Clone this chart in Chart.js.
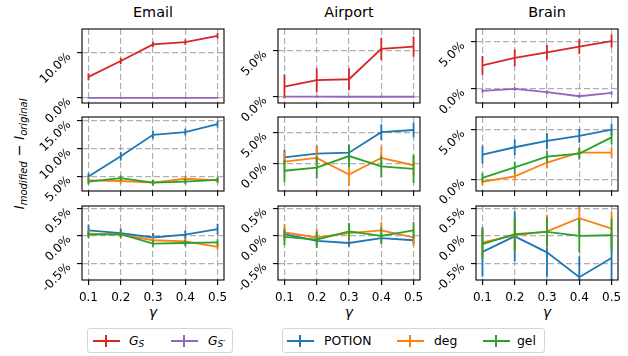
<!DOCTYPE html>
<html>
<head>
<meta charset="utf-8">
<script src="https://cdn.jsdelivr.net/npm/chart.js"></script>
<style>
body{margin:0;width:628px;height:356px;position:relative;background:#fff;overflow:hidden;font-family:"DejaVu Sans",sans-serif;color:#000}
canvas{position:absolute}
.title{position:absolute;top:4px;width:142px;text-align:center;font-size:14.4px;line-height:16px}
.gam{position:absolute;top:304px;width:20px;margin-left:-10px;text-align:center;font-style:italic;font-size:14px;line-height:16px}
#ylab{position:absolute;left:20px;top:154px;transform:translate(-50%,-50%) rotate(-90deg);white-space:nowrap;font-size:14.4px}
#ylab sub{font-size:10px;font-style:italic;vertical-align:-3px}
.lbox{position:absolute;top:328px;height:25px;border:1px solid #d6d6d6;border-radius:3px;box-sizing:border-box}
.mk{position:absolute;top:340px;width:27px;height:2px}
.mk i{position:absolute;left:12px;top:-5px;width:2px;height:12px;background:inherit}
.lt{position:absolute;top:332px;font-size:12.4px;line-height:18px}
.lt sub{font-size:9px;font-style:italic;vertical-align:-2px}
</style>
</head>
<body>
<div class="title" style="left:82px">Email</div>
<div class="title" style="left:278px">Airport</div>
<div class="title" style="left:476px">Brain</div>
<div id="ylab"><i>I</i><sub>modified</sub> − <i>I</i><sub>original</sub></div>
<div class="gam" style="left:153px">γ</div>
<div class="gam" style="left:349px">γ</div>
<div class="gam" style="left:547px">γ</div>

<div class="lbox" style="left:87px;width:146px"></div>
<div class="lbox" style="left:282px;width:263px"></div>
<div class="mk" style="left:93px;background:#d62728"><i></i></div>
<div class="lt" style="left:129px"><i>G</i><sub>S</sub></div>
<div class="mk" style="left:171px;background:#9467bd"><i></i></div>
<div class="lt" style="left:208px"><i>G</i><sub>S′</sub></div>
<div class="mk" style="left:287px;background:#1f77b4"><i></i></div>
<div class="lt" style="left:324px">POTION</div>
<div class="mk" style="left:397px;background:#ff7f0e"><i></i></div>
<div class="lt" style="left:434px">deg</div>
<div class="mk" style="left:483px;background:#2ca02c"><i></i></div>
<div class="lt" style="left:517px">gel</div>

<script>
const gamma = [0.1, 0.2, 0.3, 0.4, 0.5];

// row 1: G_S and G_S'
const emailGs = [4.7, 8.2, 11.9, 12.4, 13.8];
const emailGsErr = [0.8, 0.7, 0.6, 0.6, 0.6];
const emailGsp = [0.05, 0.05, 0.03, 0.03, 0.05];
const emailGspErr = [0.15, 0.15, 0.15, 0.15, 0.15];
const airportGs = [1.1, 1.8, 1.9, 5.2, 5.45];
const airportGsErr = [1.3, 1.3, 1.2, 1.2, 1.1];
const airportGsp = [0.02, 0.02, 0.0, 0.0, 0.0];
const airportGspErr = [0.1, 0.1, 0.1, 0.1, 0.1];
const brainGs = [2.5, 3.3, 3.9, 4.5, 5.1];
const brainGsErr = [1.0, 0.9, 0.8, 0.8, 0.7];
const brainGsp = [-0.2, 0.0, -0.35, -0.78, -0.43];
const brainGspErr = [0.2, 0.2, 0.2, 0.2, 0.2];

// row 2
const emailPotion = [5.0, 8.65, 12.5, 13.0, 14.4];
const emailPotionErr = [0.6, 0.8, 0.7, 0.6, 0.6];
const emailDeg = [4.3, 4.2, 3.9, 4.6, 4.3];
const emailDegErr = [0.5, 0.5, 0.5, 0.5, 0.5];
const emailGel = [4.1, 4.7, 3.9, 4.1, 4.4];
const emailGelErr = [0.5, 0.5, 0.5, 0.5, 0.5];
const airportPotion = [1.0, 1.6, 1.75, 5.1, 5.45];
const airportPotionErr = [1.2, 1.3, 1.3, 1.3, 1.2];
const airportDeg = [0.3, 0.9, -1.8, 0.9, -0.3];
const airportDegErr = [1.5, 1.9, 1.9, 1.9, 1.6];
const airportGel = [-1.2, -0.7, 1.2, -0.5, -0.9];
const airportGelErr = [1.8, 1.8, 1.8, 1.8, 2.3];
const brainPotion = [2.5, 3.25, 3.9, 4.4, 5.05];
const brainPotionErr = [0.9, 0.8, 0.8, 0.7, 0.6];
const brainDeg = [-0.25, 0.3, 1.7, 2.7, 2.7];
const brainDegErr = [0.4, 0.4, 0.6, 0.5, 0.5];
const brainGel = [0.15, 1.2, 2.3, 2.6, 4.25];
const brainGelErr = [0.5, 0.6, 0.6, 0.6, 0.7];

// row 3
const emailPotion3 = [0.1, 0.05, -0.03, 0.02, 0.12];
const emailPotion3Err = [0.1, 0.08, 0.08, 0.08, 0.1];
const emailDeg3 = [0.04, 0.02, -0.08, -0.1, -0.2];
const emailDeg3Err = [0.06, 0.06, 0.06, 0.06, 0.06];
const emailGel3 = [0.02, 0.03, -0.14, -0.13, -0.12];
const emailGel3Err = [0.06, 0.06, 0.06, 0.06, 0.06];
const airportPotion3 = [0.03, -0.09, -0.13, -0.04, -0.08];
const airportPotion3Err = [0.07, 0.07, 0.07, 0.07, 0.07];
const airportDeg3 = [0.06, -0.03, 0.05, 0.1, -0.03];
const airportDeg3Err = [0.15, 0.15, 0.15, 0.15, 0.15];
const airportGel3 = [-0.02, -0.07, 0.08, 0.0, 0.1];
const airportGel3Err = [0.15, 0.15, 0.15, 0.15, 0.15];
const brainPotion3 = [-0.29, -0.01, -0.3, -0.75, -0.4];
const brainPotion3Err = [0.45, 0.45, 0.45, 0.38, 0.45];
const brainDeg3 = [-0.12, 0.01, 0.08, 0.32, 0.13];
const brainDeg3Err = [0.25, 0.3, 0.3, 0.3, 0.3];
const brainGel3 = [-0.15, 0.03, 0.07, 0.0, 0.01];
const brainGel3Err = [0.27, 0.3, 0.27, 0.3, 0.3];

// y ticks per panel
const ticksEmail1 = [0, 10];
const ticksEmail2 = [5, 10, 15];
const ticksRow3 = [-0.5, 0, 0.5];
const ticksFive = [0, 5];

const RED = '#d62728', PURPLE = '#9467bd', BLUE = '#1f77b4', ORANGE = '#ff7f0e', GREEN = '#2ca02c';

const colLeft = [82, 278, 476];
const rowTop = [29, 117, 206];
const PW = 142, PH = 74;
const L0 = 62, T0 = 8, R0 = 14, B0 = 40;

const errorBars = {
  id: 'errorBars',
  afterDatasetDraw(chart, args) {
    const ds = chart.data.datasets[args.index];
    if (!ds.errors) return;
    const ctx = chart.ctx, a = chart.chartArea;
    const xs = chart.scales.x, ys = chart.scales.y;
    ctx.save();
    ctx.beginPath();
    ctx.rect(a.left, a.top, a.right - a.left, a.bottom - a.top);
    ctx.clip();
    ctx.strokeStyle = ds.borderColor;
    ctx.lineWidth = 1.8;
    ds.data.forEach((p, i) => {
      const x = xs.getPixelForValue(p.x);
      ctx.beginPath();
      ctx.moveTo(x, ys.getPixelForValue(p.y - ds.errors[i]));
      ctx.lineTo(x, ys.getPixelForValue(p.y + ds.errors[i]));
      ctx.stroke();
    });
    ctx.restore();
  }
};

const frameAndLabels = {
  id: 'frameAndLabels',
  afterDraw(chart) {
    const ctx = chart.ctx, a = chart.chartArea;
    ctx.save();
    ctx.strokeStyle = '#000';
    ctx.lineWidth = 1.1;
    ctx.strokeRect(a.left, a.top, a.right - a.left, a.bottom - a.top);
    ctx.fillStyle = '#000';
    ctx.font = '12px "DejaVu Sans"';
    ctx.textAlign = 'right';
    ctx.textBaseline = 'middle';
    chart.options.yTickValues.forEach(v => {
      const y = chart.scales.y.getPixelForValue(v);
      ctx.save();
      ctx.translate(a.left - 13, y + 2);
      ctx.rotate(-Math.PI / 4);
      ctx.fillText(v.toFixed(1) + '%', 0, 0);
      ctx.restore();
    });
    ctx.restore();
  }
};

function panel(col, row, series, yMin, yMax, yTicks) {
  const cv = document.createElement('canvas');
  const w = L0 + PW + R0, h = T0 + PH + B0;
  cv.width = w; cv.height = h;
  cv.style.left = (colLeft[col] - L0) + 'px';
  cv.style.top = (rowTop[row] - T0) + 'px';
  cv.style.width = w + 'px'; cv.style.height = h + 'px';
  document.body.appendChild(cv);
  const gridOpts = {color: 'rgba(150,150,150,0.75)', lineWidth: 1.2, tickColor: '#000', tickLength: 5, tickWidth: 1.1};
  new Chart(cv, {
    type: 'line',
    data: {
      datasets: series.map((s, i) => ({
        data: gamma.map((g, j) => ({x: g, y: s[0][j]})),
        errors: s[1],
        borderColor: s[2],
        borderWidth: 1.8,
        pointRadius: 0,
        tension: 0,
        fill: false,
        order: series.length - i
      }))
    },
    options: {
      responsive: false,
      animation: false,
      events: [],
      yTickValues: yTicks,
      layout: {padding: {top: T0, right: R0, left: 0, bottom: 0}},
      plugins: {legend: {display: false}, tooltip: {enabled: false}},
      scales: {
        x: {
          type: 'linear', min: 0.08, max: 0.52,
          afterBuildTicks: s => { s.ticks = gamma.map(v => ({value: v})); },
          afterFit: s => { s.height = B0; },
          ticks: {display: row === 2, color: '#000', padding: 6, maxRotation: 0,
            font: {family: 'DejaVu Sans', size: 12}, callback: v => v.toFixed(1)},
          grid: gridOpts,
          border: {display: false, dash: [6, 3]}
        },
        y: {
          min: yMin, max: yMax,
          afterBuildTicks: s => { s.ticks = yTicks.map(v => ({value: v})); },
          afterFit: s => { s.width = L0; },
          ticks: {display: false},
          grid: gridOpts,
          border: {display: false, dash: [6, 3]}
        }
      }
    },
    plugins: [errorBars, frameAndLabels]
  });
}

panel(0, 0, [[emailGs, emailGsErr, RED], [emailGsp, emailGspErr, PURPLE]], -1.1, 15.3, ticksEmail1);
panel(1, 0, [[airportGs, airportGsErr, RED], [airportGsp, airportGspErr, PURPLE]], -0.68, 7.36, ticksFive);
panel(2, 0, [[brainGs, brainGsErr, RED], [brainGsp, brainGspErr, PURPLE]], -1.5, 6.38, ticksFive);

panel(0, 1, [[emailPotion, emailPotionErr, BLUE], [emailDeg, emailDegErr, ORANGE], [emailGel, emailGelErr, GREEN]], 2.4, 15.7, ticksEmail2);
panel(1, 1, [[airportPotion, airportPotionErr, BLUE], [airportDeg, airportDegErr, ORANGE], [airportGel, airportGelErr, GREEN]], -4.5, 7.57, ticksFive);
panel(2, 1, [[brainPotion, brainPotionErr, BLUE], [brainDeg, brainDegErr, ORANGE], [brainGel, brainGelErr, GREEN]], -1.19, 6.32, ticksFive);

panel(0, 2, [[emailPotion3, emailPotion3Err, BLUE], [emailDeg3, emailDeg3Err, ORANGE], [emailGel3, emailGel3Err, GREEN]], -0.8, 0.54, ticksRow3);
panel(1, 2, [[airportPotion3, airportPotion3Err, BLUE], [airportDeg3, airportDeg3Err, ORANGE], [airportGel3, airportGel3Err, GREEN]], -0.8, 0.54, ticksRow3);
panel(2, 2, [[brainPotion3, brainPotion3Err, BLUE], [brainDeg3, brainDeg3Err, ORANGE], [brainGel3, brainGel3Err, GREEN]], -0.8, 0.54, ticksRow3);
</script>
</body>
</html>
